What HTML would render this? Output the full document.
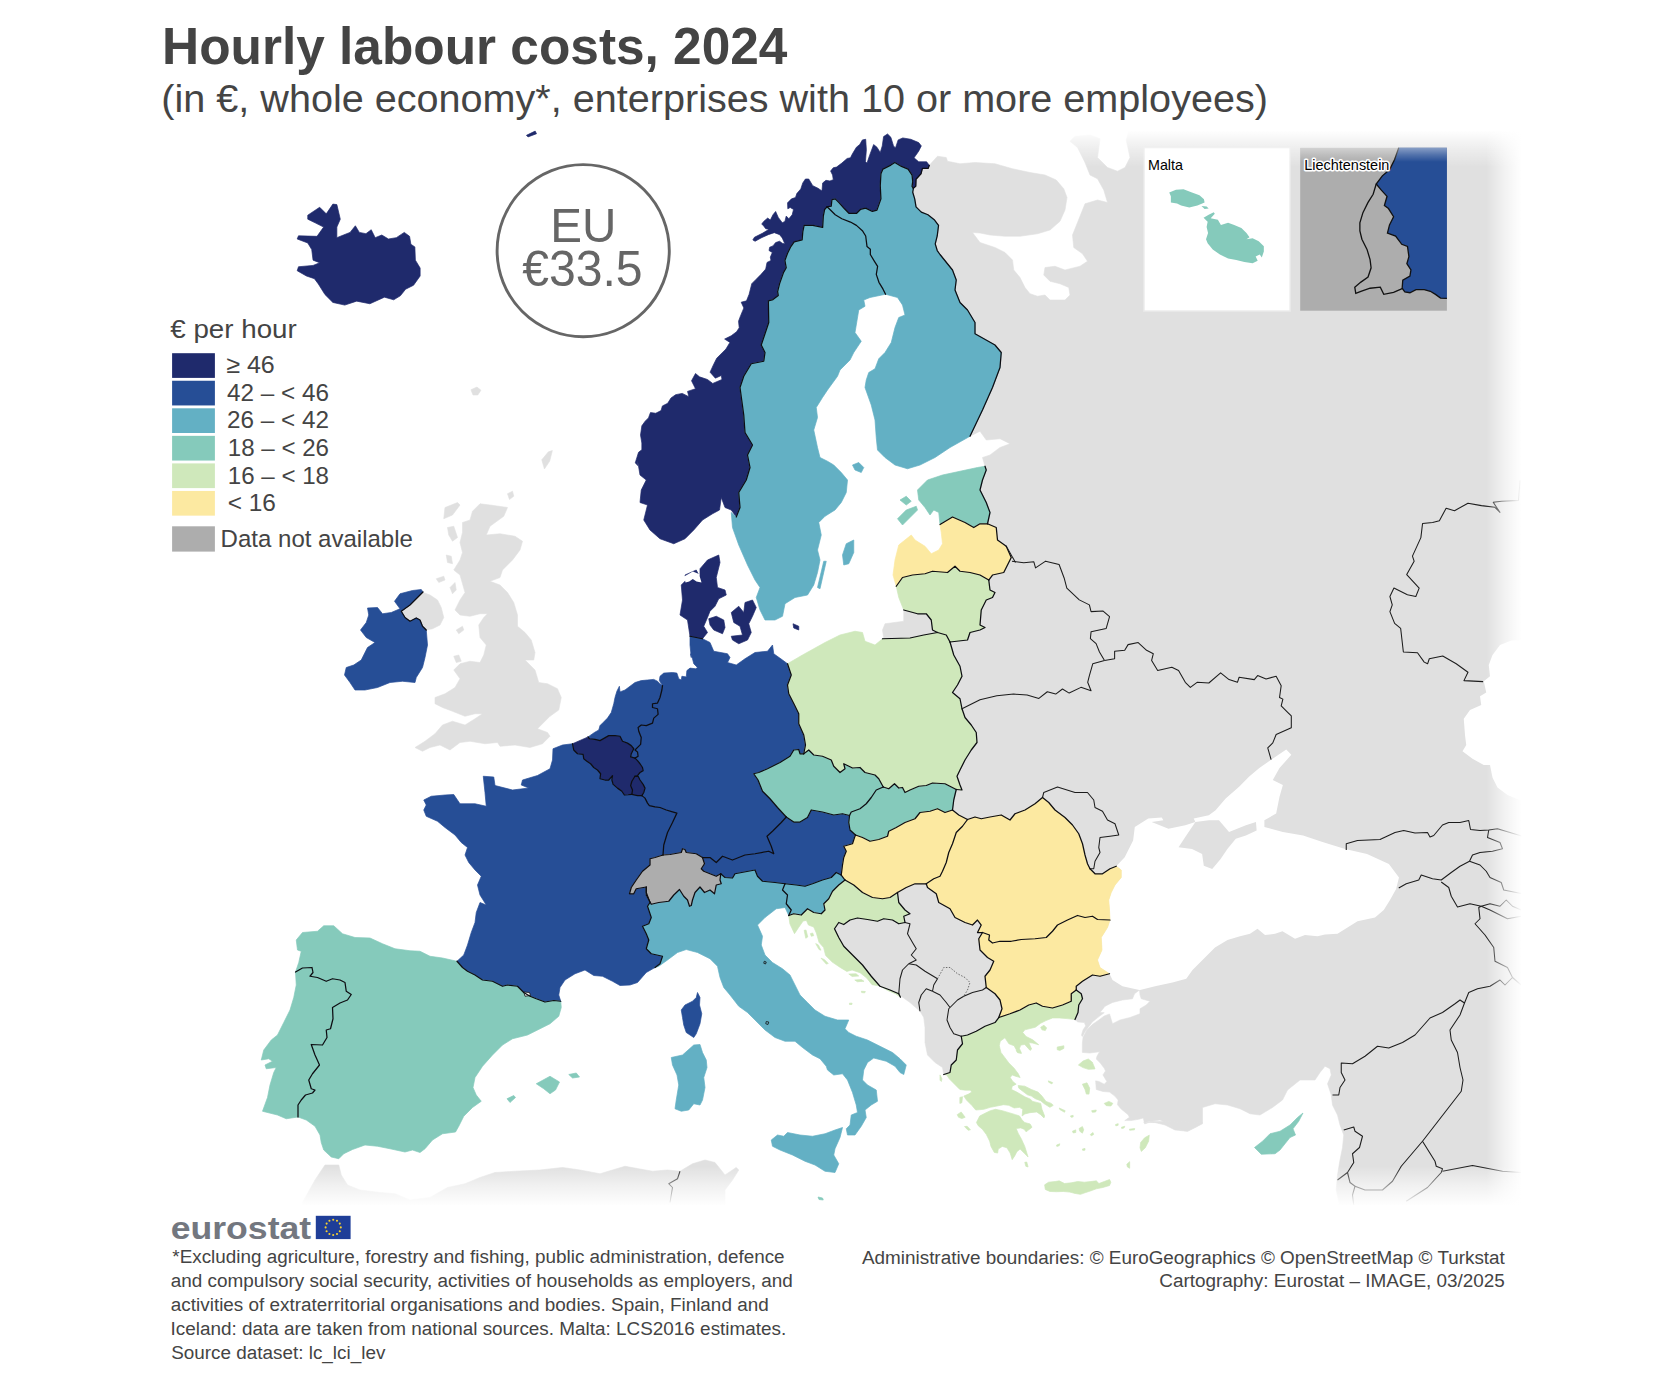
<!DOCTYPE html>
<html><head><meta charset="utf-8"><title>Hourly labour costs, 2024</title>
<style>
html,body{margin:0;padding:0;background:#fff;}
body{width:1664px;height:1382px;overflow:hidden;position:relative;font-family:"Liberation Sans",sans-serif;}
svg{position:absolute;left:0;top:0;}
svg text{font-family:"Liberation Sans",sans-serif;}
</style></head><body>
<svg width="1664" height="1382" viewBox="0 0 1664 1382">
<defs>
<linearGradient id="fr" x1="0" x2="1" y1="0" y2="0"><stop offset="0" stop-color="#fff" stop-opacity="0"/><stop offset="0.55" stop-color="#fff" stop-opacity="0.62"/><stop offset="1" stop-color="#fff" stop-opacity="1"/></linearGradient>
<linearGradient id="fb" x1="0" x2="0" y1="0" y2="1"><stop offset="0" stop-color="#fff" stop-opacity="0"/><stop offset="0.5" stop-color="#fff" stop-opacity="0.55"/><stop offset="1" stop-color="#fff" stop-opacity="1"/></linearGradient>
<linearGradient id="ft" x1="0" x2="0" y1="1" y2="0"><stop offset="0" stop-color="#fff" stop-opacity="0"/><stop offset="0.5" stop-color="#fff" stop-opacity="0.45"/><stop offset="1" stop-color="#fff" stop-opacity="1"/></linearGradient>
<linearGradient id="ftl" x1="0" x2="1" y1="0" y2="0"><stop offset="0" stop-color="#fff" stop-opacity="1"/><stop offset="1" stop-color="#fff" stop-opacity="0"/></linearGradient>
<clipPath id="mapclip"><rect x="150" y="125" width="1380" height="1085"/></clipPath>
</defs>
<g clip-path="url(#mapclip)">
<g fill="#e0e0e0" stroke="#e0e0e0" stroke-width="0.6">
<polygon points="929.27,165.36 937.5,156.25 946.25,157.5 947.5,161.25 960,163.75 975,162.5 995,163.75 1012.5,168.75 1030,172.5 1045,175 1056.25,180 1063.75,188.75 1067,197.5 1065,210 1060,221.25 1050,230 1037.5,233.75 1020,236.25 1005,236.25 990,235 980,233 972.5,232.5 980,242.5 995,247.5 1005,252.5 1012.5,260 1013.75,270 1020,277.5 1025,287.5 1030,293.75 1037.5,296.25 1045,295 1050,300 1065,300 1070,295 1068.75,287.5 1060,283.75 1050,281.25 1043.75,275 1045,267.5 1055,266.25 1065,270 1080,266.25 1087.5,261.25 1082.5,253.75 1073.75,247.5 1072.5,235 1077.5,222.5 1082.5,210 1085,203.75 1097.5,200 1107.5,202.5 1103.75,190 1097.5,178.75 1090,175 1085,162.5 1077.5,147.5 1070,141.25 1075,136.25 1090,135 1100,138.75 1097.5,157.5 1107.5,167.5 1117.5,171.25 1125,167.5 1130,157.5 1126.25,140 1130,127.5 1530,125 1530,1215 1340,1207.5 1336.25,1190 1337.5,1175 1340,1160 1342.5,1147.5 1343.75,1135 1340,1125 1337.5,1115 1332.5,1105 1331.25,1095 1327.5,1083.75 1331.25,1075 1330,1068.75 1325,1066.25 1320,1072.5 1315,1080 1300,1080 1287.5,1090 1282.5,1100 1272.5,1107.5 1260,1115 1250,1113.75 1240,1108.75 1227.5,1105 1215,1103.75 1202.5,1107.5 1202.5,1123.75 1187.5,1131.25 1175,1130 1165,1125 1150,1121.25 1202.5,1122.5 1197.5,1126.25 1187.5,1131.25 1173.75,1128.75 1168.75,1123.75 1160,1120 1151.25,1121.25 1143.75,1122.5 1160,1122.58 1150.6,1121.92 1144.64,1123.91 1143.31,1117.95 1138.68,1119.27 1130.73,1120.6 1124.77,1120.6 1129.4,1117.28 1128.08,1114.64 1121.46,1109.34 1117.48,1104.7 1118.15,1100.07 1114.83,1096.09 1109.54,1092.12 1102.91,1091.46 1096.29,1089.47 1095.63,1080.86 1098.94,1081.52 1104.24,1084.17 1106.89,1081.52 1102.91,1074.9 1105.56,1070.93 1104.24,1068.28 1100.26,1062.98 1096.29,1059.01 1096.95,1056.36 1099.6,1051.72 1089.67,1053.05 1082.38,1052.38 1082.38,1043.11 1083.05,1037.15 1087.02,1029.87 1092.32,1024.57 1098.94,1019.93 1104.24,1015.96 1109.54,1013.97 1112.5,1023.75 1120,1020 1130,1017.5 1140,1013.75 1140,1008.75 1146.25,1005 1150,1001.25 1141.25,998.75 1140,995 1139.5,990 1134.5,993.75 1132.5,998.75 1122.5,1000 1112.5,1002.5 1105,1006.25 1100,1012.5 1104.24,1012.65 1098.94,1016.62 1092.32,1021.92 1088.34,1027.22 1085.03,1031.85 1082.38,1036.49 1081.46,1035.17 1083.05,1029.87 1085.7,1025.89 1084.37,1022.58 1077.75,1021.92 1075,1019.5 1075,1019.5 1078,1012.5 1078.75,1005 1082.5,998.75 1081.25,993.75 1076.25,990 1050,995 1025,995 998.75,1017.5 998.75,1017.5 995,1022.5 985,1026.25 976.25,1031.25 967.5,1035 961.25,1036.25 961.25,1036.25 962.5,1043.75 957.5,1050 956.25,1060 951.25,1065 950,1072.5 943.75,1074.5 943.75,1074.5 942.5,1067.5 935,1062.5 927.5,1055 925,1042.5 925,1027.5 923.75,1017.5 920,1011.25 920,1011.25 910,1002.5 901.25,996.25 900.46,997.22 900.46,997.22 898.75,993.75 898.75,993.75 890,990 880,986.25 871.25,976.25 862.5,965 852.5,955 843.75,946.25 838.75,937.5 834.5,928.75 840,910 865,875 890,812.5 890,725 890,662.5 882.5,638.75 883.75,638.75 882.5,630 885,623.75 903.75,621.25 903.75,610 903.75,610 917.5,613.75 926.25,613.75 931.25,620 932.5,630 937.5,632.5 950,605 962.5,555 970,500 985,466.25 982.5,457.5 990,455 1000,447.5 1010,443.75 1000,438.75 986.25,440 980,431.25 970,436.25 970,436.25 982.5,410 992.5,387.5 1000,367.5 1001.25,352.5 995,345 975,333.75 975,322.5 967.5,310 960,302.5 955,290 956.25,280 952.5,270 940,254.5 937.22,250.53 935.23,243.91 937.22,235.96 938.54,225.36 934.57,220.07 927.95,214.77 921.32,212.12 916.03,206.82 914.7,198.87 912.72,192.25 913.38,188.28 913.38,188.28 915.76,186.29 916.03,179.27 921.06,173.71 922.38,168.41 928.21,168.41 929.27,165.36"/>
<polygon points="338.75,1165 325,1165 315,1180 302.5,1202.5 300,1215 725,1215 725,1202.5 725,1190 732.5,1180 738.75,1170 736.25,1167.5 725,1175 715,1162.5 705,1160 692.5,1163.75 680,1171.25 667.5,1170 652.5,1171.25 640,1169 625,1166.25 600,1173.75 580,1170 562.5,1167.5 540,1170 515,1171.25 495,1172.5 480,1177.5 465,1183.75 447.5,1187.5 430,1197.5 410,1200 395,1193.75 380,1192.5 360,1190 347.5,1185 341.25,1175"/>
<polygon points="480,503.75 490,505 507.5,507.5 503.75,516.25 490,526.25 486.25,535 500,533.75 515,536.25 522.5,541.25 520,550 512.5,560 502.5,570 500,577.5 490,581.25 500,585 507.5,592.5 513.75,602.5 517.5,615 517.5,626.25 525,632.5 531.25,640 535,652.5 533.75,660 525,660 535,670 538.75,682.5 547.5,683.75 557.5,688.75 561.25,697.5 558.75,710 550,716.25 543.75,722.5 537.5,728.75 547.5,732.5 550,736.25 542.5,743.75 530,747.5 515,745 500,746.25 497.5,742.5 485,743.75 470,741.25 460,742.5 450,750 440,745 430,747.5 422.5,751.25 415,747.5 425,741.25 435,733.75 442.5,725 452.5,721.25 465,725 475,718.75 482.5,713.75 475,713.75 465,716.25 452.5,711.25 442.5,707.5 435,703.75 435,697.5 445,693.75 455,687.5 460,678.75 453.75,670 460,663.75 470,661.25 480,662.5 483.75,655 486.25,645 480,637.5 478.75,625 483.75,617.5 487.5,613.75 480,613.75 470,616.25 460,615 455,610 460,600 465,592.5 462.5,583.75 460,575 453.75,570 460,560 462.5,552.5 460,542.5 462.5,532.5 462.5,522.5 470,520 472.5,511.25"/>
<polygon points="401.25,611.25 410,605 416.25,598.75 423,592.5 430,595 437.5,600 441.25,607.5 443.75,617.5 440,625 432.5,628.75 426.25,630 422.5,626.25 420,620 416.25,618 410,621.25 405,617.5"/>
<polygon points="470.91,389.71 477,387.07 480.96,390.24 477.79,395 473.03,395"/>
<polygon points="541.78,459.78 548.39,451.85 552.36,450.53 549.71,461.11 544.42,469.04"/>
<polygon points="445,507.5 457.5,502.5 460,505 452.5,515 443.75,518.75"/>
<polygon points="447.5,527.5 453.75,526.25 457.5,537.5 452.5,541.25 448.75,535"/>
<polygon points="446.25,555 451.25,556.25 452.5,563.75 447.5,562.5"/>
<polygon points="436.25,578.75 443.75,576.25 445,580 438.75,582.5"/>
<polygon points="450,587.5 455,582.5 456.25,590 452.5,593.75"/>
<polygon points="456.25,630 462.5,626.25 463.75,630 458.75,633.75"/>
<polygon points="453.75,656.25 458.75,655 461.25,661.25 456.25,662.5"/>
<polygon points="507.5,493.75 512.5,491.25 513.75,496.25 509.5,499.5"/>
</g>
<g fill="#fff">
<polygon points="1109.5,973.75 1100,967.5 1097.5,960 1102,950 1101.25,937.5 1107.5,927.5 1110,920 1109.5,910 1108.75,900 1111.25,892.5 1115,885 1121.25,877.5 1121.25,870 1116.25,866.25 1124.71,857.31 1133.12,840.48 1134.81,827.02 1148.27,818.61 1161.73,817.6 1163.41,820.29 1151.63,821.97 1168.46,828.7 1185.29,825.34 1195.38,821.97 1193.7,818.61 1208.85,815.24 1215.58,810.19 1225.67,798.41 1239.13,786.63 1249.23,776.54 1259.33,768.12 1271.11,759.71 1286.25,749.62 1291.3,754.66 1279.52,768.12 1272.79,779.9 1282.88,784.95 1279.52,796.73 1276.15,813.56 1264.38,820.29 1264.38,827.02 1282.88,832.07 1303.08,835.43 1323.27,842.16 1345.14,848.89 1367.02,853.94 1388.89,864.04 1398.99,877.5 1395.62,890.96 1396.25,888.75 1390,900 1383.75,910 1375,917.5 1357.5,921.25 1347.5,927.5 1337.5,933.75 1325,934.5 1317.5,936.25 1305,935 1295,938.75 1282.5,931.25 1275,933.75 1265,935 1257.5,928.75 1250,933.75 1240,936.25 1227.5,940 1215,947.5 1202.5,960 1192.5,970 1186.25,978.75 1172.5,982.5 1155,986.25 1140,990 1139.5,990 1133.75,988.75 1122.5,986.25 1112.5,980"/>
<polygon points="1540,640 1522.5,640 1511.25,640.5 1500,645 1492.5,655 1488.75,665 1490,676.25 1483.75,681.25 1486.25,692.5 1480,696.25 1481.25,705 1470,710 1463.75,718.75 1465,735 1466.25,745 1462.5,751.25 1472.5,758.75 1483.75,765 1490,765 1492.5,777.5 1497.5,787.5 1507.5,795 1522.5,801.25 1540,801.25"/>
</g>
<polygon points="1195.38,821.97 1208.85,820.29 1218.94,820.29 1229.04,832.07 1245.87,825.34 1255.96,821.97 1256.63,830.38 1245.87,835.43 1235.77,838.8 1227.36,848.89 1220.62,858.99 1212.21,869.09 1203.8,865.72 1202.12,853.94 1192.02,848.89 1178.56,847.21 1185.29,837.12" fill="#e0e0e0" />
<g fill="none" stroke="#1c1c1c" stroke-width="1.05" stroke-linejoin="round">
<polyline points="1011.97,561.15 1023.75,562.84 1033.85,561.83 1035.53,567.88 1045.62,561.15 1059.09,564.52 1064.13,577.98 1066.83,588.08 1079.28,599.86 1089.38,604.9 1091.06,611.63 1102.84,610.96 1109.57,616.68 1106.2,628.46 1091.06,631.83 1090.38,638.56 1096.11,643.61 1099.47,652.02 1104.52,660.43"/>
<polyline points="1104.52,660.43 1092.74,663.8 1089.38,675.58 1087.69,682.31 1091.06,690.72 1080.96,687.36 1069.18,693.08 1062.45,689.04 1055.72,694.09 1047.31,691.73 1038.89,698.46 1027.12,695.1 1013.65,694.09 996.83,695.77 980,699.81 962,708.75"/>
<polyline points="1104.52,660.43 1114.62,658.75 1114.62,651.35 1124.71,650.34 1128.08,644.62 1138.17,642.6 1146.59,650.34 1153.32,653.7 1151.63,660.43 1157.69,670.53 1171.83,667.16 1178.56,670.53 1185.29,682.31 1190.34,687.36 1197.07,682.31 1208.85,682.98 1220.62,672.88 1229.04,679.62 1237.45,682.31 1239.13,677.26 1254.28,679.62 1257.64,675.58 1266.06,678.94 1276.15,676.25 1281.2,685.67 1279.52,697.45 1282.88,699.13 1281.2,705.87 1287.93,712.6 1291.3,715.96 1291.3,727.74 1276.15,734.47 1272.79,742.88 1267.74,747.93 1271.11,759.71"/>
<polyline points="1520.14,480.38 1518.46,500.58 1501.63,501.25 1493.22,502.26 1499.95,512.36 1494.9,507.31 1481.44,505.62 1467.98,503.27 1454.52,510.67 1446.11,508.32 1439.38,520.77 1432.64,522.45 1422.55,523.46 1420.87,537.6 1412.45,556.11 1414.13,561.15 1406.73,574.62 1419.18,588.08 1415.82,596.49 1407.4,594.81 1393.94,588.08 1389.9,596.49 1392.26,604.9 1389.9,611.63 1394.62,623.41 1400.67,628.46 1403.37,652.02 1417.5,652.69 1424.23,662.12 1427.6,663.8 1429.28,658.75 1442.74,656.06 1456.2,663.8 1467.98,672.21 1463.94,680.62 1483.12,681.63"/>
<polyline points="1042.5,797.5 1043.75,792.5 1057.5,787 1075,792.5 1087.5,792.5 1093.75,800 1095,807.5 1102.5,811.25 1107.5,820 1115,823.75 1118.75,835 1110,836.25 1100,837.5 1098.75,847.5 1100,852.5 1095,861.25 1093.75,868.75 1090,868.75"/>
<polyline points="1006.25,546.25 1015.5,562.5"/>
<polyline points="1346.25,850 1346.25,843.75 1357.5,840.5 1380,839.5 1395,832.5 1403.75,830.5 1415,833 1427.5,832.5 1430,837 1433.75,835.5 1442.5,825 1448.75,822.5 1460,822.5 1468.75,820.5 1470.5,829.5 1480,830.5 1488.75,830 1497.5,828.75 1510,832.5 1522.5,836.25"/>
<polyline points="1488.75,830 1487.5,837.5 1500,842.5 1502.5,848.75 1492.5,851.25 1480,852.5 1472.5,855 1469.5,861.25 1460,866.25 1451.25,872.5 1441.25,880 1432.5,878.75 1421.25,875 1418.75,880 1406.25,883.75 1398.75,888"/>
<polyline points="1469.5,861.25 1480,865 1486.25,871.25 1490,877.5 1501.25,882.5 1503.75,890 1522.5,893.75"/>
<polyline points="1332.5,1095 1338.75,1095 1340,1087.5 1345,1080 1341.25,1072.5 1341.25,1063 1352.5,1063.75 1365,1056.25 1377.5,1046.25 1388.75,1048 1402.5,1042.5 1415,1035 1430,1018 1442.5,1012.5 1455,1003.75 1460,1000 1464.5,1003 1468.75,992.5 1477.5,988.75 1490,986.25 1500,980 1505,985 1512.5,977.5 1521.25,985"/>
<polyline points="1512.5,977.5 1507.5,967.5 1495,961.25 1493.75,947.5 1485,935 1475,923.75 1480,918.75 1478.75,907.5 1481.25,906.25 1470,903.75 1457.5,907 1451.25,896.25 1448.75,887.5 1441.25,882"/>
<polyline points="1481.25,906.25 1490,903.75 1500,906.25 1506.25,900 1512.5,906.25 1521.25,910"/>
<polyline points="1481.25,906.25 1490,910 1507.5,918.75 1521.25,916.25"/>
<polyline points="1464.5,1003 1460,1015 1450,1030 1451.25,1040 1457.5,1052.5 1460,1067.5 1463,1080 1461.25,1091.25 1422.5,1141.25 1435,1161.25 1436.25,1166.25 1442.5,1168.75 1441.25,1172.5 1427.5,1187.5 1406.25,1201.25"/>
<polyline points="1442.5,1171.25 1472.5,1165.5 1502.5,1171.25 1521.25,1172.5"/>
<polyline points="1422.5,1141.25 1401.25,1166.25 1392.5,1181.25 1382.5,1190 1365,1190 1355,1186.25 1352.5,1195 1353.75,1205.5"/>
<polyline points="1343.75,1130 1353.75,1127 1355,1131.25 1362.5,1136.25 1359.5,1147.5 1352.5,1153.75 1353.75,1162.5 1347.5,1172.5 1337.5,1180"/>
<polyline points="1347.5,1172.5 1350,1182.5 1355,1186.25"/>
<polyline points="680,1171.25 677.5,1178.75 668.75,1183.75 672.5,1187.5 670,1202.5"/>
<polyline points="905,922.5 910,923.75 907.5,933.75 912.5,942.5 916.25,948.75 911.25,955 916.25,960 908.75,963.75"/>
<polyline points="908.75,963.75 902.5,970 900,978.75 898.75,993.75"/>
<polyline points="908.75,963.75 916.25,965 925,971.25 937.5,978.75"/>
<polyline points="937.5,978.75 933.75,985 932.5,991.25"/>
<polyline points="932.5,991.25 926.25,988.75 921.25,995 918.75,1002.5 920,1011.25"/>
<polyline points="932.5,991.25 940,995 946.25,1002.5 950,1007.5"/>
<polyline points="950,1007.5 957.5,1000 963.75,996.25"/>
<polyline points="963.75,996.25 972.5,992.5 982.5,990 986.25,987.5"/>
<polyline points="950,1007.5 948.75,1008.75 947,1020 950,1027.5 953.75,1033.75 961.25,1036.25"/>
<polyline points="937.5,978.75 943.75,967.5 950,967.5 957.5,973.75 965,977.5 970,982.5 967.5,990 963.75,996.25" stroke-dasharray="1.5,1.5" stroke-width="0.6"/>
</g>
</g>
<!-- fades -->
<rect x="1000" y="130" width="530" height="37" fill="url(#ft)"/><rect x="1000" y="120" width="530" height="10.5" fill="#fff"/>
<rect x="1486" y="120" width="36" height="1095" fill="url(#fr)"/>
<rect x="1521.5" y="120" width="143" height="1095" fill="#fff"/>
<rect x="150" y="1166" width="1400" height="40" fill="url(#fb)"/>
<rect x="150" y="1205.5" width="1400" height="12" fill="#fff"/>
<g clip-path="url(#mapclip)">
<g fill="#1f2a6c" stroke="#1f2a6c" stroke-width="0.7" stroke-linejoin="round">
<polygon points="736.25,517 731.25,510 725,507.5 721.25,497.5 719.5,510 712.5,513.75 702.5,520 693.75,530 685,538.75 673.75,543.75 660,538.75 650,530 643.75,520 647.5,505 640,502.5 641.25,490 646.25,480 640,475 637.5,460 637.88,465.56 635.23,462.91 638.54,452.32 641.85,449.67 641.85,443.05 640.53,435.1 641.85,425.83 645.17,421.19 648.48,417.88 650.46,412.58 655.76,413.25 661.06,410.6 662.38,405.96 667.68,403.31 670.99,398.01 675.63,394.7 682.25,393.38 688.87,396.69 687.55,391.39 695.5,388.74 691.52,380.79 695.5,373.51 699.47,376.82 707.42,379.47 712.72,383.44 721.99,379.47 721.32,375.5 715.36,378.15 710.07,372.19 713.38,364.9 716.69,358.28 721.99,352.98 725.96,349.01 729.93,342.38 724.64,339.07 731.26,335.76 736.56,331.79 739.21,327.81 738.54,321.19 740.53,315.89 743.84,307.95 741.19,302.19 746.49,300.86 749.14,294.24 751.79,283.64 755.76,279.67 761.06,274.37 765.7,269.07 767.02,262.45 770.99,260.46 770.33,257.15 772.32,252.52 769.01,250.53 769.67,247.22 772.98,245.89 775.63,242.58 779.6,241.26 782.25,243.25 784.9,243.91 782.25,237.95 779.6,234.64 774.3,232.65 768.34,234.64 761.06,237.95 755.1,241.26 752.85,239.93 754.44,237.28 762.38,233.31 769.01,229.34 765.7,228.68 763.71,226.03 761.72,224.04 763.71,221.39 767.68,218.08 770.33,220.07 772.98,214.77 775.63,211.46 778.28,217.42 782.25,222.72 784.9,221.39 786.23,216.09 788.87,218.74 792.19,214.77 793.51,209.47 790.2,207.48 787.81,208.81 787.55,202.85 791.52,198.87 795.5,197.55 796.82,193.58 800.79,188.94 802.78,182.98 805.43,179.01 808.74,179.01 812.72,185.63 818.01,188.28 821.99,190.93 822.65,182.98 825.96,180.33 829.93,180.99 833.25,179.67 832.58,175.03 830.6,171.06 833.25,167.75 836.56,167.09 841.85,163.11 847.15,158.48 850.46,157.81 852.45,153.84 856.42,147.22 859.74,144.57 862.38,139.93 865.7,139.27 866.36,149.87 865.43,161.79 867.02,163.11 869.67,155.17 873.64,144.57 876.95,147.22 880.26,152.52 882.25,145.89 883.58,136.62 887.55,133.97 890.86,137.28 893.51,145.89 895.5,147.88 898.15,139.93 902.78,137.95 910.73,139.27 918.68,142.58 921.32,145.89 918.68,151.19 914.04,157.81 918.68,161.79 926.62,161.79 929.27,165.36 929.27,165.36 928.21,168.41 922.38,168.41 921.06,173.71 916.03,179.27 915.76,186.29 913.38,188.28 913.38,188.28 912.05,186.29 912.72,181.66 912.05,175.03 908.08,169.07 901.46,166.42 894.83,162.45 890.86,165.1 882.91,169.07 880.93,173.71 880.26,185.63 880.93,198.87 876.95,210.13 872.32,211.46 865.7,208.15 860.4,209.47 856.42,213.44 849.14,213.44 844.5,208.81 839.21,202.85 835.23,198.87 831.92,199.54 831.26,206.16 827.02,206.82 827.02,206.82 824.64,209.47 823.31,216.09 822.65,227.35 812.72,225.36 804.11,225.36 802.78,231.99 802.12,239.93 794.17,241.92 790.86,246.56 787.55,253.18 784.9,260.46 786.23,267.75 783.58,272.38 779.6,283.64 777.62,291.59 778.28,295.56 772.98,299.54 768.34,300.86 768.75,322.5 761.25,345 765,352.5 763.75,361.25 751.25,363.75 743.75,376.25 740,387.5 743.75,415 745,432.5 752.5,445 747.5,455 750,467.5 746.25,480 738.75,492.5 740,507.5 736.25,517"/>
<polygon points="307.76,215.19 319.66,207.26 326.27,213.87 332.88,204.09 336.85,204.62 340.29,219.16 336.85,227.09 336.85,237.67 343.46,235.02 350.07,232.38 355.36,225.77 359.33,232.38 365.94,233.7 371.23,229.74 375.19,237.67 381.8,235.02 388.41,238.99 396.35,237.67 404.28,232.38 409.57,236.35 410.89,244.28 414.86,246.92 415.38,260.14 420.14,268.08 420.14,276.01 413.53,285.26 405.6,289.23 400.31,295.84 393.7,299.81 384.45,297.16 369.9,303.77 356.68,301.13 344.78,305.1 332.88,302.45 324.95,294.52 318.34,283.94 314.38,278.65 306.44,276.01 297.19,270.72 298.51,266.75 313.05,265.43 319.66,262.79 313.05,260.14 311.73,249.57 307.76,242.96 297.19,238.99 298.51,235.82 317.02,236.35 323.63,227.09 315.7,223.12 307.76,219.16"/>
<polygon points="526.44,135.34 535.17,131.11 536.49,133.75 528.03,136.92"/>
<polygon points="690,636.25 687.5,620 680,615 682.5,600 681.25,585 686.25,580 685,575 696.25,570 700,577.5 700,568.75 707.5,560 718.75,555 720,562.5 716.25,577.5 717.5,587.5 725,590 726.25,595 718.75,598.75 715,606.25 710,611.25 707.5,617.5 703.75,626.25 707.5,632.5 702.5,638.75"/>
<polygon points="708.75,618.75 716.25,616.25 723.75,620 725,627.5 722.5,633.75 713.75,630 710,625"/>
<polygon points="731.25,612.5 738.75,606.25 743.75,612.5 745,602.5 752.5,600 756.25,607.5 752.5,616.25 748.75,623.75 751.25,632.5 747.5,640 738.75,643.75 732.5,640 731.25,636.25 742.5,635 740,626.25 733.75,622.5"/>
<polygon points="793,623.75 798.75,626.25 798.75,630 793.75,628"/>
<polygon points="572.5,743.75 588.12,736.88 588.12,736.88 589.38,738.75 595,739.38 600,740.62 604.38,738.12 608.75,735.62 615,735.62 620,736.25 622.5,741.25 627.5,743.12 631.25,745.62 633.75,748.75 631.25,753.75 630.62,756.88 635,758.12 635,758.12 637.5,760.62 640,763.75 642.5,767.5 643.12,770.62 640,772.5 637.5,775.62 635,776.25 635,776.25 631.88,781.25 630.62,785.62 632.5,790 631.88,794.38 631.88,794.38 628.12,794.75 624.38,795 621.88,791.25 617.5,788.12 613.12,784.38 611.88,780 612.5,775.62 608.75,780 605,780 600,778.75 600.62,773.75 597.5,770 593.75,767.5 590.62,763.75 586.88,761.25 583.75,758.75 583.12,754.38 577.5,753.75 573.75,750 572.5,743.75"/>
<polygon points="635,776.25 638.12,776.25 640,780 643.12,784.38 645,788.12 643.75,792.5 641.88,795.62 641.88,795.62 637.5,795.62 631.88,794.38 631.88,794.38 632.5,790 630.62,785.62 631.88,781.25 635,776.25"/>
</g>
<g fill="#264e96" stroke="#264e96" stroke-width="0.7" stroke-linejoin="round">
<polygon points="367.5,608 377.5,607.5 382.5,613.75 391.25,612.5 400,608.75 394.5,601.25 400,593.75 412.5,590.5 421.25,589.5 423,592 416.25,598.75 410,605 401.25,611.25 405,617.5 410,621.25 416.25,618 420,620 422.5,626.25 426.25,630 427.5,645 425,657.5 422.5,667.5 416.25,677.5 415,682.5 402.5,681.25 390,682.5 377.5,687.5 365,690 355,690 350,682.5 344.5,675 346.25,667.5 353.75,665 361.25,660 367.5,647.5 375,642.5 366.25,637.5 360.5,630 366.25,622.5 368.75,615"/>
<polygon points="588.12,736.88 594.38,732.5 598.75,730 600,725.62 603.12,722.5 607.5,718.12 611.25,712.5 613.75,703.75 615,697.5 616.88,691.25 619.38,686.25 620,691.88 625,690 630,686.25 635,682.5 641.25,680.62 647.5,680 653.75,679.38 657.5,681.25 660,683.75 662.5,685.62 662.5,685.62 661.88,690 660,697.5 657.5,703.12 652.5,703.75 652.5,707.5 657.5,708.75 658.12,714.38 653.75,718.12 652.5,723.12 646.25,725.62 641.25,725 638.12,727.5 638.75,731.25 641.25,737.5 640.62,744.38 638.12,746.88 635,750 637.5,751.88 638.12,756.25 635,758.12 635,758.12 630.62,756.88 631.25,753.75 633.75,748.75 631.25,745.62 627.5,743.12 622.5,741.25 620,736.25 615,735.62 608.75,735.62 604.38,738.12 600,740.62 595,739.38 589.38,738.75 588.12,736.88"/>
<polygon points="662.5,685.62 659.38,680.62 660,676.25 663.75,673.12 672.5,672.5 676.88,673.12 678.75,678.75 681.25,680 681.88,676.25 686.25,676.88 686.88,670.62 690,668.12 695.62,668.75 697.5,667.5 693.75,663.75 692.5,658.75 690.62,653.75 691.25,657.5 690,645 690,636.25 690,636.25 702.5,638.75 702.5,638.75 710,642.5 713.75,651.25 727.5,653.75 730,657.5 727.5,662.5 736.25,665 745,658.75 755,652.5 767.5,651.25 772.5,645 773.75,653.75 782.5,660 787.5,663.75 787.5,663.75 791.25,675 787.5,685 788.75,693.75 794.5,705 798.75,713.75 798.75,723.75 803.75,735 805.5,745 803.75,753.75 803.75,753.75 800,753.75 798.75,749.5 793.75,750 790,756.25 780,762.5 767.5,768.75 758.75,772.5 753.75,773.75 758,780 760,785 762.5,791.25 770,798.75 777.5,807.5 786.25,817 786.25,817 781.25,822.5 772.5,831.25 767,836.25 771.25,846.25 773.75,853.75 768.75,851.25 755,853.75 745,855 732.5,860 722.5,856.25 716.25,862.5 710,857.5 702.5,857.5 702.5,857.5 696.25,853.75 686.25,852.5 685,849.5 682.5,848.75 681.25,852.5 670,854.5 663,855 663,855 663.75,845 667.5,832.5 672.5,822.5 676.88,813.12 672.5,811.88 666.25,810 660,807.5 655,806.88 649.38,805.62 647.5,803.12 645,798.12 641.88,795.62 641.88,795.62 643.75,792.5 645,788.12 643.12,784.38 640,780 638.12,776.25 635,776.25 635,776.25 637.5,775.62 640,772.5 643.12,770.62 642.5,767.5 640,763.75 637.5,760.62 635,758.12 635,758.12 638.12,756.25 637.5,751.88 635,750 638.12,746.88 640.62,744.38 641.25,737.5 638.75,731.25 638.12,727.5 641.25,725 646.25,725.62 652.5,723.12 653.75,718.12 658.12,714.38 657.5,708.75 652.5,707.5 652.5,703.75 657.5,703.12 660,697.5 661.88,690 662.5,685.62"/>
<polygon points="457,961.25 463.75,955 467.5,945 471.25,932.5 475,922.5 476.25,912.5 480,902.5 486.25,905 480,895 477.5,885 481.25,876.25 475,870 468.75,862.5 465,855 467.5,847.5 461.25,842.5 455,835 445,827.5 437.5,821.25 426.25,816.25 423.75,810 426.25,805 423.75,800 431.25,796.25 445,795 453.75,794.5 460,803.75 475,803.75 486.25,806.25 485,792.5 483.25,776.25 493.75,777 495,785.5 512.5,790 528.75,788 521.25,785 522.5,780 537.5,775.5 550,768.75 552.5,760 553,748.75 562.5,745 572.5,743.75 572.5,743.75 573.75,750 577.5,753.75 583.12,754.38 583.75,758.75 586.88,761.25 590.62,763.75 593.75,767.5 597.5,770 600.62,773.75 600,778.75 605,780 608.75,780 612.5,775.62 611.88,780 613.12,784.38 617.5,788.12 621.88,791.25 624.38,795 628.12,794.75 631.88,794.38 631.88,794.38 637.5,795.62 641.88,795.62 641.88,795.62 645,798.12 647.5,803.12 649.38,805.62 655,806.88 660,807.5 666.25,810 672.5,811.88 676.88,813.12 672.5,822.5 667.5,832.5 663.75,845 663,855 663,855 655,857.5 650,858.75 650,865 642.5,871.25 636.25,880 631.25,887.5 629.5,893.75 633.75,893.75 636.25,888.75 646.25,887 646.25,887 646.25,892.5 650,902.5 647.5,906.25 651.25,917.5 648.75,923.75 642.5,926.25 646.25,933.75 648.75,940 646.25,948.75 651.25,953.75 662.5,956.25 660,963.75 655,967.5 655,967.5 646.25,972.5 637.5,982.5 630,985 620,985.5 612.5,981.25 602.5,976.25 593.75,975.5 585,970 575,973.75 565,980 560,987.5 558.75,995 560.75,1001.25 560.75,1001.25 553.75,1000.5 545,1002 536.25,998.75 530,996.25 523.75,992.5 517.5,986.25 507.5,985 502.5,986.25 492.5,981.25 482.5,980 475,975 467.5,971.25 462.5,967.5 457,961.25"/>
<polygon points="697.5,992.5 700,997.5 699.5,1005 701.75,1013.75 700,1023.75 696.25,1033.75 693.75,1037.5 686.25,1032.5 683.75,1025 682.5,1017.5 681.25,1010 685,1005 692.5,1001.25 696.25,997.5"/>
<polygon points="702.5,857.5 710,857.5 716.25,862.5 722.5,856.25 732.5,860 745,855 755,853.75 768.75,851.25 773.75,853.75 771.25,846.25 767,836.25 772.5,831.25 781.25,822.5 786.25,817 786.25,817 793.75,822 800,822 807.5,817.5 811.25,810 822.5,812 833.75,815 842.5,813.75 849.5,815.5 849.5,815.5 848.75,822.5 850,830 855.5,835 855.5,835 854.5,837.5 852.5,843.75 843.75,846.25 846.25,851.25 843.75,857.5 842.5,865 841.25,875 841.25,875 836.25,872.5 831.25,877.5 822.5,880 812.5,883.75 805,886.25 796.25,885 785,883.75 785,883.75 775,882.5 762.5,881.25 757.5,876.25 755,870 735,873.75 732.5,878 725,877.5 720.75,873.75 720.75,873.75 716.25,876.25 710,873.75 703.75,871.25 701.25,868.75 704.5,863.75 702.5,857.5"/>
</g>
<g fill="#63b0c4" stroke="#63b0c4" stroke-width="0.7" stroke-linejoin="round">
<polygon points="736.25,517 740,507.5 738.75,492.5 746.25,480 750,467.5 747.5,455 752.5,445 745,432.5 743.75,415 740,387.5 743.75,376.25 751.25,363.75 763.75,361.25 765,352.5 761.25,345 768.75,322.5 768.34,300.86 772.98,299.54 778.28,295.56 777.62,291.59 779.6,283.64 783.58,272.38 786.23,267.75 784.9,260.46 787.55,253.18 790.86,246.56 794.17,241.92 802.12,239.93 802.78,231.99 804.11,225.36 812.72,225.36 822.65,227.35 823.31,216.09 824.64,209.47 827.02,206.82 827.02,206.82 829.93,209.47 835.23,214.77 841.85,218.74 850.46,222.05 856.42,225.36 862.38,230.66 865.7,235.96 867.02,246.56 870.33,249.21 870.33,254.5 874.3,261.13 877.62,266.42 876.29,274.37 878.94,282.32 882.91,288.94 885.56,294.24 885.56,294.24 870,297.5 863.75,300 865,306.25 858.75,310 856.25,325 855,332.5 861.25,341.25 853.75,352.5 850,360 840,370 837.5,376.25 827.5,390 822.5,397.5 816.25,407.5 817.5,417.5 813.75,430 817.5,447.5 820,457.5 827.5,461.25 833.75,465 841.25,472.5 847.5,480 846.25,492.5 841.25,502.5 835,510 825,516.25 818.75,522.5 821.25,535 817.5,550 820,560 817.5,572.5 813.75,585 807.5,595 795,597.5 785,603.75 782.5,616.25 775,620 765,620 760,610 756.25,597.5 760,587.5 755,580 747.5,565 738.75,545 732.5,527.5 731.25,512.5 736.25,517"/>
<polygon points="846.25,543.75 853.75,540 853.75,552.5 848.75,563.75 843.75,565 842.5,555"/>
<polygon points="823.75,561.25 826.25,561.25 820,588.75 817.5,587.5"/>
<polygon points="885.56,294.24 882.91,288.94 878.94,282.32 876.29,274.37 877.62,266.42 874.3,261.13 870.33,254.5 870.33,249.21 867.02,246.56 865.7,235.96 862.38,230.66 856.42,225.36 850.46,222.05 841.85,218.74 835.23,214.77 829.93,209.47 827.02,206.82 827.02,206.82 831.26,206.16 831.92,199.54 835.23,198.87 839.21,202.85 844.5,208.81 849.14,213.44 856.42,213.44 860.4,209.47 865.7,208.15 872.32,211.46 876.95,210.13 880.93,198.87 880.26,185.63 880.93,173.71 882.91,169.07 890.86,165.1 894.83,162.45 901.46,166.42 908.08,169.07 912.05,175.03 912.72,181.66 912.05,186.29 913.38,188.28 913.38,188.28 912.72,192.25 914.7,198.87 916.03,206.82 921.32,212.12 927.95,214.77 934.57,220.07 938.54,225.36 937.22,235.96 935.23,243.91 937.22,250.53 940,254.5 952.5,270 956.25,280 955,290 960,302.5 967.5,310 975,322.5 975,333.75 995,345 1001.25,352.5 1000,367.5 992.5,387.5 982.5,410 970,436.25 970,436.25 950,447.5 935,457.5 920,465 907.5,468.75 895,465 885,457.5 877.5,450 876.25,437.5 875,420 871.25,405 865,387.5 866.25,380 868.75,372.5 875,368.75 878.75,358.75 885,352.5 891.25,342.5 895,327.5 898.75,317.5 905,315 902.5,305 897.5,297.5 885.56,294.24"/>
<polygon points="852.5,465 858.75,462.5 863.75,467.5 861.25,472.5 855,470"/>
<polygon points="658.75,966.25 667.5,960 677.5,952.5 686.25,949.5 697.5,952.5 710,958.75 717.5,966.25 720,977.5 723.75,987.5 730,995 738.75,1006.25 747.5,1012.5 755,1020 765,1030 775,1037.5 785,1041.25 795,1041.25 802.5,1047.5 812.5,1055 820,1058.75 826.25,1066.25 827.5,1070 833.75,1075 842.5,1073.75 847.5,1080 852.5,1092.5 856.25,1105 857.5,1112.5 851.25,1115 850,1125 846.25,1128.75 847.5,1135 855,1135 861.25,1126.25 866.25,1117.5 865,1110 871.25,1105 877.5,1101.25 876.25,1090 867.5,1085 862.5,1080 863.75,1070 867.5,1062.5 873.75,1058 886.25,1061.25 895,1066.25 900,1072.5 903.75,1074.5 906.25,1065 900,1058.75 892.5,1052.5 880,1046.25 867.5,1040 856.25,1036.25 848.75,1032.5 845,1028.75 848.75,1020 837.5,1020 825,1016.25 815,1010 807.5,1002.5 800,995 795,985 790,975 782.5,968.75 772.5,962.5 765,955 761.25,945 762.5,936.25 757.5,925 765,917.5 776.25,908.75 785,907.5 788.75,915.5 788.75,915.5 791.25,910 786.25,903.75 787.5,895 782.5,890 785,883.75 785,883.75 775,882.5 762.5,881.25 757.5,876.25 755,870 735,873.75 732.5,878 725,877.5 720.75,873.75 720.75,873.75 720,880 721.25,883.75 716.25,885 714.5,893.75 710,890 704.5,892.5 700,887 695,892.5 692.5,900 691.25,905.5 689.5,906.25 687.5,900 683.75,896.25 679.5,889.5 673.75,895 668.75,901.25 658.75,902.5 651.25,904.25 646.25,895 646.25,887 646.25,887 646.25,892.5 650,902.5 647.5,906.25 651.25,917.5 648.75,923.75 642.5,926.25 646.25,933.75 648.75,940 646.25,948.75 651.25,953.75 662.5,956.25 660,963.75 655,967.5"/>
<polygon points="671.25,1057.5 682.5,1055 693.75,1045 700,1044.5 702.5,1052.5 706.25,1060 707,1067.5 703.75,1077.5 705,1087.5 702.5,1100 700,1105 693.75,1103.75 688.75,1110 681.25,1111.25 675,1108.75 676.25,1100 678.75,1085 677,1075 672.5,1065"/>
<polygon points="771.25,1140 777.5,1135 783.75,1136.25 787.5,1132.5 800,1135 812.5,1136.25 825,1133.75 835,1130 842.5,1127.5 840,1137.5 835,1148.75 833.75,1155 838.75,1163.75 835,1172.5 825,1171.25 815,1165 805,1161.25 792.5,1155 780,1150 772.5,1146.25"/>
<polygon points="785,883.75 796.25,885 805,886.25 812.5,883.75 822.5,880 831.25,877.5 836.25,872.5 841.25,875 841.25,875 845,880 845,880 838.75,885 832.5,891.25 828.75,898.75 823.75,903.75 825,910 821.25,913.75 813.75,912.5 807.5,908.75 801.25,915 793.75,913.75 788.75,915.5 788.75,915.5 791.25,910 786.25,903.75 787.5,895 782.5,890 785,883.75"/>
</g>
<g fill="#85cabb" stroke="#85cabb" stroke-width="0.7" stroke-linejoin="round">
<polygon points="296.25,940 302.5,932.5 317.5,931.25 323.75,925.75 333.75,925.75 342.5,933.75 355,937.5 370,938 382.5,943.75 395,948.75 410,950.75 420,951.25 430,956.25 442.5,958 457,961.25 462.5,967.5 467.5,971.25 475,975 482.5,980 492.5,981.25 502.5,986.25 507.5,985 517.5,986.25 523.75,992.5 530,996.25 536.25,998.75 545,1002 553.75,1000.5 560.75,1001.25 561.25,1007.5 558.75,1016.25 550,1023.75 540,1028.75 527.5,1035 512.5,1038.75 502.5,1045 492.5,1055 482.5,1066.25 475,1077.5 473,1087.5 476.25,1095 481.25,1101.25 472.5,1107.5 463.75,1116.25 458.75,1126.25 455.5,1132 442.5,1133.75 432.5,1140 425,1148.75 420,1152.5 412.5,1150 405,1152 390,1148.75 377.5,1146.25 365,1145 352.5,1149.5 343.75,1153.75 338.75,1158.75 331.25,1157 323.75,1150 321.25,1142.5 320,1135 315,1126.25 306.25,1120 298,1117 298,1117 298,1105 301.25,1100 305.5,1095 312.5,1093 315,1090 311.25,1088.75 308.75,1080 312.5,1073.75 319.5,1065 315,1055 311.25,1044.5 322.5,1045 327,1037.5 326.25,1030 330.5,1028.75 333,1018.75 332.5,1007.5 340,1003 347.5,1000 351.25,994.5 346.25,991.25 345,982.5 340,980 332.5,978.75 326.25,981.25 317.5,977.5 310,976.25 313,972.5 312,967.5 302.5,968 295.5,972 295.5,972 298.75,962.5 301.25,951.25 297.5,950 296.25,940"/>
<polygon points="298,1117 286.25,1118.75 277.5,1115 262.5,1111.25 267.5,1097.5 270,1085 273.75,1072.5 276.25,1067.5 266.25,1068.75 265,1065 272.5,1061.25 268.75,1058.75 261.25,1060 263.75,1050 271.25,1040 277.5,1035 283.75,1022.5 290,1010 293.75,997.5 296.25,985 295.5,972 295.5,972 302.5,968 312,967.5 313,972.5 310,976.25 317.5,977.5 326.25,981.25 332.5,978.75 340,980 345,982.5 346.25,991.25 351.25,994.5 347.5,1000 340,1003 332.5,1007.5 333,1018.75 330.5,1028.75 326.25,1030 327,1037.5 322.5,1045 311.25,1044.5 315,1055 319.5,1065 312.5,1073.75 308.75,1080 311.25,1088.75 315,1090 312.5,1093 305.5,1095 301.25,1100 298,1105 298,1117"/>
<polygon points="536.25,1083.75 550,1076.25 559.5,1082 555.5,1090 550,1093.75 543.75,1088.75"/>
<polygon points="568.75,1074.5 576.25,1073 579.5,1077 572.5,1078"/>
<polygon points="507,1098.75 513.75,1095.5 515.5,1097.5 510,1102.5"/>
<polygon points="985,466.25 986.25,470 982.5,480 980,490 986.25,502.5 990,512.5 987.5,523.75 987.5,523.75 980,523.75 973.75,527.5 965,522.5 952.5,517 940,524.5 940,524.5 938.75,512.5 933.75,510 930,515 925,507.5 918.75,500 917.5,490 927.5,480 942.5,475 960,471.25 977.5,467.5 985,466.25"/>
<polygon points="900,500 906.25,496.25 911.25,501.25 906.25,505"/>
<polygon points="897.5,518.75 906.25,510 916.25,506.25 917.5,510 910,517.5 902.5,525"/>
<polygon points="803.75,753.75 808.75,750 813.75,755 822.5,756.25 831.25,760 833.75,766.25 840,772.5 845,768.75 843.75,763.75 852.5,768 860,767.5 865,772.5 875,775 878.75,778.75 883.25,787 883.25,787 876.25,790 871.25,797.5 866.25,803.75 860,808.75 851.25,812 849.5,815.5 849.5,815.5 842.5,813.75 833.75,815 822.5,812 811.25,810 807.5,817.5 800,822 793.75,822 786.25,817 786.25,817 777.5,807.5 770,798.75 762.5,791.25 760,785 758,780 753.75,773.75 758.75,772.5 767.5,768.75 780,762.5 790,756.25 793.75,750 798.75,749.5 800,753.75 803.75,753.75"/>
<polygon points="883.25,787 888.75,788.75 894.5,783.75 898.75,788 902.5,787.5 905,792.5 910,790 918.75,786.25 926.25,785.5 932.5,783 945,783.75 956.25,789.5 956.25,789.5 953.75,800 952.5,810 952.5,810 945,812.5 937.5,808.75 930,811.25 920,812.5 915,818.75 905,822.5 896.25,827.5 888.75,831.25 887.5,836.25 878.75,839.5 870,841.25 862.5,837.5 855.5,835 855.5,835 850,830 848.75,822.5 849.5,815.5 849.5,815.5 851.25,812 860,808.75 866.25,803.75 871.25,797.5 876.25,790 883.25,787"/>
<polygon points="1254.5,1147.5 1262.5,1141.25 1270,1133.75 1280,1131.25 1290,1125 1297.5,1117.5 1303,1113 1298.75,1121.25 1293,1128.75 1295.5,1135 1290,1137.5 1285,1143.75 1280,1150 1275,1153.75 1261.25,1154.25"/>
<polygon points="818,1197 822.5,1198 823.25,1200 819,1199.5"/>
</g>
<g fill="#cfe8bb" stroke="#cfe8bb" stroke-width="0.7" stroke-linejoin="round">
<polygon points="896.25,586.25 902.5,577.5 912.5,575 925,573.75 932.5,571.25 947.5,572.5 955,566.25 960,571.25 970,572.5 980,575 988.75,580 988.75,580 990,590 995,592.5 992.5,597.5 986.25,600 981.25,610 980,625 985,627.5 980,630 970,632.5 967.5,640 950,642 950,642 946.25,635 937.5,632.5 937.5,632.5 932.5,630 931.25,620 926.25,613.75 917.5,613.75 903.75,610 903.75,610 898.75,597.5 896.25,586.25"/>
<polygon points="787.5,663.75 802.5,655 825,642.5 840,635 855,631.25 862.5,632.5 865,641.25 875,645 882.5,638.75 882.5,638.75 910,638 923.75,635 937.5,632.5 937.5,632.5 946.25,635 950,642 950,642 953.75,655 960,666.25 962,676.25 957.5,685 952.5,692.5 960,698.75 962,708.75 962,708.75 965,717.5 971.25,725 976.25,732.5 977,742.5 971.25,750 965,760 960,770 957,776.25 960,785 962,790 956.25,789.5 956.25,789.5 945,783.75 932.5,783 926.25,785.5 918.75,786.25 910,790 905,792.5 902.5,787.5 898.75,788 894.5,783.75 888.75,788.75 883.25,787 883.25,787 878.75,778.75 875,775 865,772.5 860,767.5 852.5,768 843.75,763.75 845,768.75 840,772.5 833.75,766.25 831.25,760 822.5,756.25 813.75,755 808.75,750 803.75,753.75 803.75,753.75 805.5,745 803.75,735 798.75,723.75 798.75,713.75 794.5,705 788.75,693.75 787.5,685 791.25,675 787.5,663.75"/>
<polygon points="788.75,915.5 789.87,923.71 794.5,933.64 798.48,927.68 803.11,921.06 806.42,920.4 808.41,925.03 813.71,927.02 816.36,932.98 819.01,942.25 823.64,947.55 825.63,955.5 832.25,962.12 840.2,967.42 846.82,971.39 852.12,970.07 860.07,972.72 866.69,978.01 871.99,984.64 879.93,985.96 887.88,990.6 895.83,993.91 900.46,997.22 900.46,997.22 898.75,993.75 898.75,993.75 890,990 880,986.25 871.25,976.25 862.5,965 852.5,955 843.75,946.25 838.75,937.5 834.5,928.75 838.75,922.5 843.75,924.5 850,920 857.5,918 867.5,919.5 877.5,921.25 883.75,918.75 892.5,920 898.75,923.75 905,922.5 905,922.5 903.75,916.25 910,913.75 905,910 898.75,902.5 897.5,892.5 897.5,892.5 890,897.5 882.5,898.75 872.5,897.5 862.5,892.5 853.75,885 845,880 845,880 838.75,885 832.5,891.25 828.75,898.75 823.75,903.75 825,910 821.25,913.75 813.75,912.5 807.5,908.75 801.25,915 793.75,913.75 788.75,915.5"/>
<polygon points="943.75,1074.5 950,1072.5 951.25,1065 956.25,1060 957.5,1050 962.5,1043.75 961.25,1036.25 961.25,1036.25 967.5,1035 976.25,1031.25 985,1026.25 995,1022.5 998.75,1017.5 998.75,1017.5 1010,1013.75 1020,1010 1028.75,1005 1036.25,1003 1042.5,1006.25 1052.5,1008 1062.5,1005 1071.25,1001.25 1071.25,993.75 1076.25,990 1076.25,990 1081.25,993.75 1082.5,998.75 1078.75,1005 1078,1012.5 1075,1019.5 1075,1019.5 1067.15,1018.61 1059.21,1017.95 1052.58,1017.95 1045.96,1020.6 1040.66,1023.25 1035.36,1027.22 1030.07,1028.54 1024.77,1029.87 1022.78,1032.52 1026.09,1036.49 1032.72,1039.8 1038.68,1044.7 1032.72,1043.11 1028.74,1042.45 1031.66,1049.07 1030.07,1050.4 1024.77,1044.44 1020.79,1045.1 1019.47,1048.41 1021.06,1052.38 1018.15,1052.65 1015.5,1048.41 1014.17,1045.76 1008.87,1043.77 1006.23,1039.8 1004.9,1037.81 1000.26,1041.13 999.34,1045.76 1000.93,1052.38 1004.9,1057.68 1008.87,1062.98 1014.17,1068.28 1018.15,1073.58 1020.13,1077.55 1015.5,1076.23 1012.19,1074.9 1010.2,1077.55 1012.85,1081.52 1016.16,1084.17 1012.19,1086.16 1011.52,1089.47 1016.82,1092.12 1024.77,1096.75 1030.07,1099.01 1032.72,1101.39 1040.66,1103.38 1041.99,1109.34 1044.64,1115.96 1043.97,1117.95 1040.66,1114.64 1036.69,1111.99 1030.07,1112.65 1024.77,1113.97 1022.12,1115.96 1022.78,1109.34 1019.47,1107.35 1014.17,1108.01 1008.87,1105.36 1003.58,1104.7 996.95,1106.03 990.33,1107.35 983.71,1109.34 975.76,1110 971.79,1105.36 966.49,1100.07 963.84,1096.09 968.48,1094.11 971.79,1092.12 970.46,1090.13 965.17,1090.13 959.87,1089.47 954.57,1084.17 949.27,1078.87 946.62,1074.9 943.75,1074.5"/>
<polygon points="976.42,1122.58 979.74,1115.96 985.03,1113.31 990.33,1110.66 995.63,1109.34 1002.25,1110.66 1008.87,1112.65 1015.5,1114.64 1019.47,1115.96 1022.12,1119.93 1024.77,1122.58 1030.07,1123.91 1032.05,1127.22 1028.74,1129.87 1026.09,1131.85 1024.11,1129.21 1020.79,1127.88 1016.16,1128.54 1018.15,1133.18 1021.46,1139.14 1024.77,1146.42 1028.08,1157.02 1024.77,1153.71 1020.13,1149.07 1016.82,1151.72 1014.83,1155.7 1012.19,1159.67 1010.2,1153.05 1006.89,1147.75 1002.25,1146.42 998.28,1149.07 997.62,1153.05 994.3,1152.38 990.99,1146.42 989.67,1141.13 986.36,1134.5 982.38,1129.21 978.41,1125.89"/>
<polygon points="1044.64,1184.83 1048.61,1182.19 1055.23,1181.52 1059.21,1180.86 1064.5,1183.51 1071.13,1182.85 1077.75,1181.52 1084.37,1182.19 1090.99,1181.52 1096.29,1180.86 1098.94,1183.51 1104.24,1181.52 1109.54,1179.54 1110.86,1182.19 1109.54,1185.5 1102.91,1187.48 1096.29,1188.81 1090.99,1190.79 1085.7,1192.52 1080.4,1194.37 1075.1,1193.44 1069.8,1192.12 1063.18,1191.46 1056.56,1191.72 1049.93,1191.46 1045.3,1189.47"/>
<polygon points="1018.15,1085.5 1024.77,1086.16 1031.39,1089.47 1038.01,1092.12 1041.99,1096.09 1045.96,1101.39 1051.26,1103.38 1053.25,1105.36 1049.93,1107.35 1044.64,1104.04 1040.66,1100.73 1035.36,1098.74 1031.39,1096.09 1027.42,1094.77 1022.12,1090.79 1018.81,1088.15"/>
<polygon points="1040.66,1027.22 1043.97,1025.23 1046.62,1027.88 1045.3,1030.53 1041.99,1029.87"/>
<polygon points="1057.22,1047.09 1063.84,1045.76 1063.84,1048.41 1059.87,1050.4 1057.22,1049.74"/>
<polygon points="1078.41,1064.97 1083.05,1060.99 1088.34,1059.01 1092.32,1062.32 1094.3,1066.95 1094.97,1068.94 1088.34,1069.34 1083.05,1067.62"/>
<polygon points="1082.38,1084.17 1087.02,1082.85 1089.67,1088.15 1089.01,1094.11 1086.36,1094.11 1085.03,1089.47"/>
<polygon points="1104.24,1103.38 1108.87,1101.39 1112.85,1103.38 1110.86,1106.03 1106.23,1105.63"/>
<polygon points="1140.66,1142.45 1144.64,1137.81 1149.27,1135.17 1148.61,1141.13 1145.3,1147.75 1141.32,1151.46 1140,1147.75"/>
<polygon points="1126.75,1164.3 1129.67,1161.66 1129.67,1168.28 1127.42,1166.95"/>
<polygon points="940,1074.9 941.99,1078.87 941.32,1081.52 940,1080.2"/>
<polygon points="957.22,1114.64 961.19,1111.99 965.17,1117.28 961.85,1118.61 958.54,1117.28"/>
<polygon points="964.5,1126.56 967.15,1126.29 970.46,1129.87 968.08,1130.26"/>
<polygon points="1048.34,1080.86 1052.58,1082.58 1051.92,1083.91 1048.61,1082.19"/>
<polygon points="1059.21,1108.01 1065.17,1110.66 1064.5,1112.25 1059.87,1109.6"/>
<polygon points="1079.07,1128.54 1082.38,1126.56 1083.71,1129.87 1082.38,1133.18 1079.74,1131.19"/>
<polygon points="1072.45,1131.19 1075.76,1129.87 1075.76,1132.52 1073.11,1132.91"/>
<polygon points="1024.77,1162.32 1026.75,1162.05 1028.08,1166.95 1025.83,1166.29"/>
<polygon points="1121.46,1127.22 1124.77,1126.29 1124.11,1127.88 1121.72,1128.54"/>
<polygon points="959.87,1097.42 962.52,1096.75 961.85,1102.72 959.87,1103.38"/>
<polygon points="1016.16,1050.4 1020.79,1051.72 1021.46,1053.44 1017.48,1052.65"/>
<polygon points="1070.46,1115.96 1073.11,1115.3 1073.11,1117.02 1071.13,1117.28"/>
<polygon points="1091.66,1110.66 1096.29,1110 1095.63,1111.99 1092.32,1112.25"/>
<polygon points="1090.33,1134.5 1092.98,1132.52 1093.64,1134.5 1091.26,1135.83"/>
<polygon points="1056.56,1145.1 1059.87,1143.77 1059.21,1145.76 1056.82,1146.42"/>
<polygon points="1082.38,1149.07 1085.03,1148.41 1085.03,1150.13 1082.78,1150.4"/>
<polygon points="1115.5,1124.57 1118.15,1123.64 1118.15,1125.23 1115.89,1125.89"/>
<polygon points="1129.4,1129.21 1134.7,1128.54 1134.44,1129.87 1129.67,1130.26"/>
<polygon points="804.17,930.33 806.03,930.07 807.75,936.95 805.76,938.28"/>
<polygon points="810.4,933.64 812.65,932.98 813.71,935.63 811.32,936.29"/>
<polygon points="815.7,943.58 818.34,944.9 820.99,950.2 819.01,949.54"/>
<polygon points="820.99,958.15 824.3,959.47 828.28,963.44 826.29,964.11"/>
<polygon points="848.81,974.04 856.09,973.77 858.74,976.03 852.12,976.42"/>
<polygon points="854.77,980 861.39,979.6 864.04,981.32 857.42,981.72"/>
<polygon points="861.39,991.26 865.36,991.52 864.7,992.85 861.66,992.58"/>
<polygon points="849.47,1003.18 852.12,1003.18 851.85,1004.5 849.47,1004.5"/>
</g>
<g fill="#fce9a1" stroke="#fce9a1" stroke-width="0.7" stroke-linejoin="round">
<polygon points="940,524.5 952.5,517 965,522.5 973.75,527.5 980,523.75 987.5,523.75 987.5,523.75 996.25,527.5 997.5,540 1006.25,546.25 1006.25,546.25 1011.25,557.5 1003.75,572.5 992.5,575 988.75,580 988.75,580 980,575 970,572.5 960,571.25 955,566.25 947.5,572.5 932.5,571.25 925,573.75 912.5,575 902.5,577.5 896.25,586.25 896.25,586.25 893,575 895,560 898.75,545 911.25,535 915,540 925,546.25 931.25,553.75 938.75,550 942.5,543.75 941.25,532.5 940,524.5"/>
<polygon points="855.5,835 862.5,837.5 870,841.25 878.75,839.5 887.5,836.25 888.75,831.25 896.25,827.5 905,822.5 915,818.75 920,812.5 930,811.25 937.5,808.75 945,812.5 952.5,810 952.5,810 958.75,815 967.5,819.5 967.5,819.5 962.5,826.25 956.25,832.5 952.5,843.75 948.75,852.5 946.25,862.5 942.5,871.25 940,876.25 933.75,878.75 926.25,883.75 926.25,883.75 915,883.75 906.25,887.5 897.5,892.5 897.5,892.5 890,897.5 882.5,898.75 872.5,897.5 862.5,892.5 853.75,885 845,880 845,880 841.25,875 841.25,875 842.5,865 843.75,857.5 846.25,851.25 843.75,846.25 852.5,843.75 854.5,837.5 855.5,835"/>
<polygon points="982.5,932.5 989.5,935 988.75,940 992.5,943 1000,941.25 1011.25,941.25 1021.25,939.5 1035,938.75 1046.25,937.5 1052.5,931.25 1057.5,925 1067.5,920 1077.5,915.5 1085,917.5 1092.5,916.25 1097.5,919.5 1110,920 1109.5,910 1108.75,900 1111.25,892.5 1115,885 1121.25,877.5 1121.25,870 1116.25,866.25 1116.25,866.25 1110,868.75 1102.5,873.75 1095,873.75 1090,868.75 1090,868.75 1087.5,863.75 1085,855 1082.5,843.75 1078.75,833.75 1072.5,825 1065,817.5 1055,810 1048.75,802.5 1042.5,797.5 1042.5,797.5 1035,803.75 1025,810 1015,813.75 1010,820 1001.25,815 990,817 981.25,818.75 975,817 967.5,819.5 967.5,819.5 962.5,826.25 956.25,832.5 952.5,843.75 948.75,852.5 946.25,862.5 942.5,871.25 940,876.25 933.75,878.75 926.25,883.75 926.25,883.75 927.5,887.5 936.25,893.75 938.75,902.5 950,908.75 955,917.5 965,922.5 972.5,925 977.5,920 981.25,925 977.5,932.5 982.5,932.5"/>
<polygon points="982.5,932.5 989.5,935 988.75,940 992.5,943 1000,941.25 1011.25,941.25 1021.25,939.5 1035,938.75 1046.25,937.5 1052.5,931.25 1057.5,925 1067.5,920 1077.5,915.5 1085,917.5 1092.5,916.25 1097.5,919.5 1110,920 1110,920 1107.5,927.5 1101.25,937.5 1102,950 1097.5,960 1100,967.5 1109.5,973.75 1109.5,973.75 1100,976.25 1092.5,975 1082.5,981.25 1076.25,986.25 1076.25,990 1076.25,990 1071.25,993.75 1071.25,1001.25 1062.5,1005 1052.5,1008 1042.5,1006.25 1036.25,1003 1028.75,1005 1020,1010 1010,1013.75 998.75,1017.5 998.75,1017.5 1002,1008.75 1000,1000 995,993.75 986.25,987.5 986.25,987.5 985,976.25 990,970 993.75,961.25 987.5,957.5 980,950 978.75,938.75 982.5,932.5"/>
</g>
<g fill="#adadad" stroke="#adadad" stroke-width="0.7" stroke-linejoin="round">
<polygon points="663,855 670,854.5 681.25,852.5 682.5,848.75 685,849.5 686.25,852.5 696.25,853.75 702.5,857.5 663,855 655,857.5 650,858.75 650,865 642.5,871.25 636.25,880 631.25,887.5 629.5,893.75 633.75,893.75 636.25,888.75 646.25,887 646.25,887 646.25,895 651.25,904.25 658.75,902.5 668.75,901.25 673.75,895 679.5,889.5 683.75,896.25 687.5,900 689.5,906.25 691.25,905.5 692.5,900 695,892.5 700,887 704.5,892.5 710,890 714.5,893.75 716.25,885 721.25,883.75 720,880 720.75,873.75 720.75,873.75 716.25,876.25 710,873.75 703.75,871.25 701.25,868.75 704.5,863.75 702.5,857.5"/>
</g>
<polygon points="684.2,576.5 692.8,571.6 699,574 701.5,582.6 696.5,581.4 692.8,579 689.2,581.4 685.5,582.6" fill="#fff" />
<polygon points="523.75,992 529.5,992.5 530.5,995.5 525,996.25" fill="#eee" stroke="#111" stroke-width="0.8"/>
<polygon points="764.25,961.25 766.25,962 765.5,964 763.75,963.25" fill="none" stroke="#111" stroke-width="0.8"/>
<polygon points="766.25,1021.5 768.75,1022 768,1024.5 765.75,1023.75" fill="none" stroke="#111" stroke-width="0.8"/>
<g fill="none" stroke="#0d0d12" stroke-width="1.25" stroke-linejoin="round" stroke-linecap="round">
<polyline points="929.27,165.36 928.21,168.41 922.38,168.41 921.06,173.71 916.03,179.27 915.76,186.29 913.38,188.28"/>
<polyline points="913.38,188.28 912.05,186.29 912.72,181.66 912.05,175.03 908.08,169.07 901.46,166.42 894.83,162.45 890.86,165.1 882.91,169.07 880.93,173.71 880.26,185.63 880.93,198.87 876.95,210.13 872.32,211.46 865.7,208.15 860.4,209.47 856.42,213.44 849.14,213.44 844.5,208.81 839.21,202.85 835.23,198.87 831.92,199.54 831.26,206.16 827.02,206.82"/>
<polyline points="827.02,206.82 824.64,209.47 823.31,216.09 822.65,227.35 812.72,225.36 804.11,225.36 802.78,231.99 802.12,239.93 794.17,241.92 790.86,246.56 787.55,253.18 784.9,260.46 786.23,267.75 783.58,272.38 779.6,283.64 777.62,291.59 778.28,295.56 772.98,299.54 768.34,300.86 768.75,322.5 761.25,345 765,352.5 763.75,361.25 751.25,363.75 743.75,376.25 740,387.5 743.75,415 745,432.5 752.5,445 747.5,455 750,467.5 746.25,480 738.75,492.5 740,507.5 736.25,517"/>
<polyline points="827.02,206.82 829.93,209.47 835.23,214.77 841.85,218.74 850.46,222.05 856.42,225.36 862.38,230.66 865.7,235.96 867.02,246.56 870.33,249.21 870.33,254.5 874.3,261.13 877.62,266.42 876.29,274.37 878.94,282.32 882.91,288.94 885.56,294.24"/>
<polyline points="913.38,188.28 912.72,192.25 914.7,198.87 916.03,206.82 921.32,212.12 927.95,214.77 934.57,220.07 938.54,225.36 937.22,235.96 935.23,243.91 937.22,250.53 940,254.5 952.5,270 956.25,280 955,290 960,302.5 967.5,310 975,322.5 975,333.75 995,345 1001.25,352.5 1000,367.5 992.5,387.5 982.5,410 970,436.25"/>
<polyline points="690,636.25 702.5,638.75"/>
<polyline points="985,466.25 986.25,470 982.5,480 980,490 986.25,502.5 990,512.5 987.5,523.75"/>
<polyline points="987.5,523.75 980,523.75 973.75,527.5 965,522.5 952.5,517 940,524.5"/>
<polyline points="987.5,523.75 996.25,527.5 997.5,540 1006.25,546.25"/>
<polyline points="1006.25,546.25 1011.25,557.5 1003.75,572.5 992.5,575 988.75,580"/>
<polyline points="988.75,580 980,575 970,572.5 960,571.25 955,566.25 947.5,572.5 932.5,571.25 925,573.75 912.5,575 902.5,577.5 896.25,586.25"/>
<polyline points="903.75,610 917.5,613.75 926.25,613.75 931.25,620 932.5,630 937.5,632.5"/>
<polyline points="937.5,632.5 946.25,635 950,642"/>
<polyline points="988.75,580 990,590 995,592.5 992.5,597.5 986.25,600 981.25,610 980,625 985,627.5 980,630 970,632.5 967.5,640 950,642"/>
<polyline points="588.12,736.88 589.38,738.75 595,739.38 600,740.62 604.38,738.12 608.75,735.62 615,735.62 620,736.25 622.5,741.25 627.5,743.12 631.25,745.62 633.75,748.75 631.25,753.75 630.62,756.88 635,758.12"/>
<polyline points="635,758.12 637.5,760.62 640,763.75 642.5,767.5 643.12,770.62 640,772.5 637.5,775.62 635,776.25"/>
<polyline points="635,776.25 631.88,781.25 630.62,785.62 632.5,790 631.88,794.38"/>
<polyline points="631.88,794.38 628.12,794.75 624.38,795 621.88,791.25 617.5,788.12 613.12,784.38 611.88,780 612.5,775.62 608.75,780 605,780 600,778.75 600.62,773.75 597.5,770 593.75,767.5 590.62,763.75 586.88,761.25 583.75,758.75 583.12,754.38 577.5,753.75 573.75,750 572.5,743.75"/>
<polyline points="635,776.25 638.12,776.25 640,780 643.12,784.38 645,788.12 643.75,792.5 641.88,795.62"/>
<polyline points="641.88,795.62 637.5,795.62 631.88,794.38"/>
<polyline points="635,758.12 638.12,756.25 637.5,751.88 635,750 638.12,746.88 640.62,744.38 641.25,737.5 638.75,731.25 638.12,727.5 641.25,725 646.25,725.62 652.5,723.12 653.75,718.12 658.12,714.38 657.5,708.75 652.5,707.5 652.5,703.75 657.5,703.12 660,697.5 661.88,690 662.5,685.62"/>
<polyline points="787.5,663.75 791.25,675 787.5,685 788.75,693.75 794.5,705 798.75,713.75 798.75,723.75 803.75,735 805.5,745 803.75,753.75"/>
<polyline points="803.75,753.75 800,753.75 798.75,749.5 793.75,750 790,756.25 780,762.5 767.5,768.75 758.75,772.5 753.75,773.75 758,780 760,785 762.5,791.25 770,798.75 777.5,807.5 786.25,817"/>
<polyline points="786.25,817 781.25,822.5 772.5,831.25 767,836.25 771.25,846.25 773.75,853.75 768.75,851.25 755,853.75 745,855 732.5,860 722.5,856.25 716.25,862.5 710,857.5 702.5,857.5"/>
<polyline points="702.5,857.5 696.25,853.75 686.25,852.5 685,849.5 682.5,848.75 681.25,852.5 670,854.5 663,855"/>
<polyline points="641.88,795.62 645,798.12 647.5,803.12 649.38,805.62 655,806.88 660,807.5 666.25,810 672.5,811.88 676.88,813.12 672.5,822.5 667.5,832.5 663.75,845 663,855"/>
<polyline points="882.5,638.75 910,638 923.75,635 937.5,632.5"/>
<polyline points="950,642 953.75,655 960,666.25 962,676.25 957.5,685 952.5,692.5 960,698.75 962,708.75"/>
<polyline points="962,708.75 965,717.5 971.25,725 976.25,732.5 977,742.5 971.25,750 965,760 960,770 957,776.25 960,785 962,790 956.25,789.5"/>
<polyline points="956.25,789.5 945,783.75 932.5,783 926.25,785.5 918.75,786.25 910,790 905,792.5 902.5,787.5 898.75,788 894.5,783.75 888.75,788.75 883.25,787"/>
<polyline points="883.25,787 878.75,778.75 875,775 865,772.5 860,767.5 852.5,768 843.75,763.75 845,768.75 840,772.5 833.75,766.25 831.25,760 822.5,756.25 813.75,755 808.75,750 803.75,753.75"/>
<polyline points="883.25,787 876.25,790 871.25,797.5 866.25,803.75 860,808.75 851.25,812 849.5,815.5"/>
<polyline points="849.5,815.5 842.5,813.75 833.75,815 822.5,812 811.25,810 807.5,817.5 800,822 793.75,822 786.25,817"/>
<polyline points="849.5,815.5 848.75,822.5 850,830 855.5,835"/>
<polyline points="956.25,789.5 953.75,800 952.5,810"/>
<polyline points="952.5,810 945,812.5 937.5,808.75 930,811.25 920,812.5 915,818.75 905,822.5 896.25,827.5 888.75,831.25 887.5,836.25 878.75,839.5 870,841.25 862.5,837.5 855.5,835"/>
<polyline points="952.5,810 958.75,815 967.5,819.5"/>
<polyline points="967.5,819.5 962.5,826.25 956.25,832.5 952.5,843.75 948.75,852.5 946.25,862.5 942.5,871.25 940,876.25 933.75,878.75 926.25,883.75"/>
<polyline points="926.25,883.75 915,883.75 906.25,887.5 897.5,892.5"/>
<polyline points="897.5,892.5 890,897.5 882.5,898.75 872.5,897.5 862.5,892.5 853.75,885 845,880"/>
<polyline points="845,880 841.25,875"/>
<polyline points="841.25,875 842.5,865 843.75,857.5 846.25,851.25 843.75,846.25 852.5,843.75 854.5,837.5 855.5,835"/>
<polyline points="841.25,875 836.25,872.5 831.25,877.5 822.5,880 812.5,883.75 805,886.25 796.25,885 785,883.75"/>
<polyline points="785,883.75 775,882.5 762.5,881.25 757.5,876.25 755,870 735,873.75 732.5,878 725,877.5 720.75,873.75"/>
<polyline points="720.75,873.75 716.25,876.25 710,873.75 703.75,871.25 701.25,868.75 704.5,863.75 702.5,857.5"/>
<polyline points="785,883.75 782.5,890 787.5,895 786.25,903.75 791.25,910 788.75,915.5"/>
<polyline points="788.75,915.5 793.75,913.75 801.25,915 807.5,908.75 813.75,912.5 821.25,913.75 825,910 823.75,903.75 828.75,898.75 832.5,891.25 838.75,885 845,880"/>
<polyline points="663,855 655,857.5 650,858.75 650,865 642.5,871.25 636.25,880 631.25,887.5 629.5,893.75 633.75,893.75 636.25,888.75 646.25,887"/>
<polyline points="646.25,887 646.25,895 651.25,904.25 658.75,902.5 668.75,901.25 673.75,895 679.5,889.5 683.75,896.25 687.5,900 689.5,906.25 691.25,905.5 692.5,900 695,892.5 700,887 704.5,892.5 710,890 714.5,893.75 716.25,885 721.25,883.75 720,880 720.75,873.75"/>
<polyline points="646.25,887 646.25,892.5 650,902.5 647.5,906.25 651.25,917.5 648.75,923.75 642.5,926.25 646.25,933.75 648.75,940 646.25,948.75 651.25,953.75 662.5,956.25 660,963.75 655,967.5"/>
<polyline points="560.75,1001.25 553.75,1000.5 545,1002 536.25,998.75 530,996.25 523.75,992.5 517.5,986.25 507.5,985 502.5,986.25 492.5,981.25 482.5,980 475,975 467.5,971.25 462.5,967.5 457,961.25"/>
<polyline points="295.5,972 302.5,968 312,967.5 313,972.5 310,976.25 317.5,977.5 326.25,981.25 332.5,978.75 340,980 345,982.5 346.25,991.25 351.25,994.5 347.5,1000 340,1003 332.5,1007.5 333,1018.75 330.5,1028.75 326.25,1030 327,1037.5 322.5,1045 311.25,1044.5 315,1055 319.5,1065 312.5,1073.75 308.75,1080 311.25,1088.75 315,1090 312.5,1093 305.5,1095 301.25,1100 298,1105 298,1117"/>
<polyline points="900.46,997.22 898.75,993.75"/>
<polyline points="898.75,993.75 890,990 880,986.25 871.25,976.25 862.5,965 852.5,955 843.75,946.25 838.75,937.5 834.5,928.75 838.75,922.5 843.75,924.5 850,920 857.5,918 867.5,919.5 877.5,921.25 883.75,918.75 892.5,920 898.75,923.75 905,922.5"/>
<polyline points="905,922.5 903.75,916.25 910,913.75 905,910 898.75,902.5 897.5,892.5"/>
<polyline points="982.5,932.5 977.5,932.5 981.25,925 977.5,920 972.5,925 965,922.5 955,917.5 950,908.75 938.75,902.5 936.25,893.75 927.5,887.5 926.25,883.75"/>
<polyline points="982.5,932.5 989.5,935 988.75,940 992.5,943 1000,941.25 1011.25,941.25 1021.25,939.5 1035,938.75 1046.25,937.5 1052.5,931.25 1057.5,925 1067.5,920 1077.5,915.5 1085,917.5 1092.5,916.25 1097.5,919.5 1110,920"/>
<polyline points="1116.25,866.25 1110,868.75 1102.5,873.75 1095,873.75 1090,868.75"/>
<polyline points="1090,868.75 1087.5,863.75 1085,855 1082.5,843.75 1078.75,833.75 1072.5,825 1065,817.5 1055,810 1048.75,802.5 1042.5,797.5"/>
<polyline points="1042.5,797.5 1035,803.75 1025,810 1015,813.75 1010,820 1001.25,815 990,817 981.25,818.75 975,817 967.5,819.5"/>
<polyline points="1109.5,973.75 1100,976.25 1092.5,975 1082.5,981.25 1076.25,986.25 1076.25,990"/>
<polyline points="998.75,1017.5 1010,1013.75 1020,1010 1028.75,1005 1036.25,1003 1042.5,1006.25 1052.5,1008 1062.5,1005 1071.25,1001.25 1071.25,993.75 1076.25,990"/>
<polyline points="986.25,987.5 995,993.75 1000,1000 1002,1008.75 998.75,1017.5"/>
<polyline points="986.25,987.5 985,976.25 990,970 993.75,961.25 987.5,957.5 980,950 978.75,938.75 982.5,932.5"/>
<polyline points="1076.25,990 1081.25,993.75 1082.5,998.75 1078.75,1005 1078,1012.5 1075,1019.5"/>
<polyline points="961.25,1036.25 962.5,1043.75 957.5,1050 956.25,1060 951.25,1065 950,1072.5 943.75,1074.5"/>
<polyline points="961.25,1036.25 967.5,1035 976.25,1031.25 985,1026.25 995,1022.5 998.75,1017.5"/>
<polyline points="423,592 416.25,598.75 410,605 401.25,611.25 405,617.5 410,621.25 416.25,618 420,620 422.5,626.25 426.25,630"/>
</g>
</g>
<!-- insets -->
<rect x="1143.2" y="146.8" width="147.7" height="165" fill="#f2f2f2" opacity="0.6"/>
<rect x="1144.7" y="148.3" width="144.7" height="162" fill="#fff"/>
<g fill="#85cabb"><polygon points="1169.23,192.62 1175.97,189.76 1183.53,189.15 1191.3,192.21 1199.47,195.28 1203.97,199.36 1204.58,202.43 1197.43,205.49 1189.25,207.54 1181.08,205.49 1177,203.45 1170.87,202.43 1170.87,196.3"/><polygon points="1201.51,206.11 1206.62,206.51 1208.67,208.56 1204.58,208.97"/><polygon points="1203.56,217.75 1208.67,214.69 1213.77,212.24 1214.8,213.67 1210.71,218.37 1217.86,219.8 1220.93,224.9 1228.08,222.86 1234.21,224.9 1241.36,227.97 1246.47,233.08 1249.53,237.16 1246.47,239.21 1252.6,238.19 1258.73,241.25 1263.83,246.36 1263.83,251.47 1261.79,257.6 1259.75,254.53 1255.66,256.57 1257.7,260.66 1252.6,263.32 1244.42,262.09 1236.25,260.05 1228.08,258.62 1219.9,254.53 1212.75,249.42 1207.64,243.29 1206.01,239.21 1208.05,233.08 1206.62,226.95 1207.64,221.84"/></g>
<rect x="1300.2" y="147.9" width="146.7" height="162.8" fill="#adadad"/>
<polygon points="1398.69,147.87 1446.91,147.87 1446.91,298.46 1440.58,298.05 1435.47,294.38 1430.36,291.31 1424.23,289.68 1416.06,289.68 1409.93,292.74 1404.82,291.92 1402.16,288.25 1402.78,280.07 1409.93,275.99 1410.95,269.86 1406.86,263.73 1408.91,256.57 1407.48,246.36 1401.75,244.31 1395.62,236.14 1387.45,233.08 1389.5,224.9 1393.58,216.73 1388.47,208.56 1384.39,205.49 1387.04,196.3 1381.32,190.17 1376.21,184.04 1382.34,175.87 1389.5,169.74 1394.6,159.52" fill="#264e96"/>
<polyline points="1446.91,298.46 1440.58,298.05 1435.47,294.38 1430.36,291.31 1424.23,289.68 1416.06,289.68 1409.93,292.74 1404.82,291.92 1402.16,288.25 1402.78,280.07 1409.93,275.99 1410.95,269.86 1406.86,263.73 1408.91,256.57 1407.48,246.36 1401.75,244.31 1395.62,236.14 1387.45,233.08 1389.5,224.9 1393.58,216.73 1388.47,208.56 1384.39,205.49 1387.04,196.3 1381.32,190.17 1376.21,184.04 1382.34,175.87 1389.5,169.74 1394.6,159.52 1398.69,147.87" fill="none" stroke="#111" stroke-width="1.3"/>
<polyline points="1376.21,184.04 1373.15,194.25 1368.04,202.43 1362.93,212.64 1359.87,222.86 1359.87,231.03 1361.91,239.21 1367.02,249.42 1370.08,259.64 1371.11,267.81 1368.04,277.01 1360.89,282.12 1354.76,287.22 1355.78,293.35 1360.89,291.31 1370.08,288.25 1380.3,287.22 1383.77,294.38 1393.58,292.33 1402.16,288.65" fill="none" stroke="#111" stroke-width="1.3"/>
<rect x="1300.2" y="147.9" width="146.7" height="14" fill="url(#ft)" opacity="0.45"/>
<text x="1148" y="169.7" font-size="14.3" fill="#000">Malta</text>
<text x="1304.3" y="169.7" font-size="14.45" fill="#000" stroke="#fff" stroke-width="3" stroke-linejoin="round" paint-order="stroke">Liechtenstein</text>
<!-- EU circle -->
<circle cx="583.2" cy="250.7" r="86.1" fill="#fff" stroke="#666" stroke-width="2.9"/>

<!-- legend -->
<g fill="#404040">
<rect x="172.1" y="353.2" width="42.8" height="24.7" fill="#1f2a6c"/>
<rect x="172.1" y="380.75" width="42.8" height="24.7" fill="#264e96"/>
<rect x="172.1" y="408.3" width="42.8" height="24.7" fill="#63b0c4"/>
<rect x="172.1" y="435.85" width="42.8" height="24.7" fill="#85cabb"/>
<rect x="172.1" y="463.4" width="42.8" height="24.7" fill="#cfe8bb"/>
<rect x="172.1" y="490.95" width="42.8" height="24.7" fill="#fce9a1"/>
<rect x="172.1" y="526.3" width="42.8" height="25.3" fill="#adadad"/>
</g>
<!-- footer -->
<rect x="315.8" y="1215.8" width="34.8" height="23.3" fill="#1f3e98"/>
<circle cx="333.20" cy="1219.80" r="1.05" fill="#f8d12e"/><circle cx="337.00" cy="1220.82" r="1.05" fill="#f8d12e"/><circle cx="339.78" cy="1223.60" r="1.05" fill="#f8d12e"/><circle cx="340.80" cy="1227.40" r="1.05" fill="#f8d12e"/><circle cx="339.78" cy="1231.20" r="1.05" fill="#f8d12e"/><circle cx="337.00" cy="1233.98" r="1.05" fill="#f8d12e"/><circle cx="333.20" cy="1235.00" r="1.05" fill="#f8d12e"/><circle cx="329.40" cy="1233.98" r="1.05" fill="#f8d12e"/><circle cx="326.62" cy="1231.20" r="1.05" fill="#f8d12e"/><circle cx="325.60" cy="1227.40" r="1.05" fill="#f8d12e"/><circle cx="326.62" cy="1223.60" r="1.05" fill="#f8d12e"/><circle cx="329.40" cy="1220.82" r="1.05" fill="#f8d12e"/>
<text x="162.11" y="63.6" font-size="51.5" font-weight="bold" fill="#444" textLength="625.31" lengthAdjust="spacingAndGlyphs">Hourly labour costs, 2024</text>
<text x="161.31" y="111.6" font-size="39.7" fill="#444" textLength="1106.63" lengthAdjust="spacingAndGlyphs">(in €, whole economy*, enterprises with 10 or more employees)</text>
<text x="170.32" y="337.8" font-size="25.6" fill="#444" textLength="126.41" lengthAdjust="spacingAndGlyphs">€ per hour</text>
<text x="226.28" y="373.2" font-size="24.6" fill="#444" textLength="48.52" lengthAdjust="spacingAndGlyphs">≥ 46</text>
<text x="227.11" y="400.8" font-size="24.6" fill="#444" textLength="101.94" lengthAdjust="spacingAndGlyphs">42 – &lt; 46</text>
<text x="227.11" y="428.4" font-size="24.6" fill="#444" textLength="101.94" lengthAdjust="spacingAndGlyphs">26 – &lt; 42</text>
<text x="227.84" y="456.0" font-size="24.6" fill="#444" textLength="101.2" lengthAdjust="spacingAndGlyphs">18 – &lt; 26</text>
<text x="227.84" y="483.6" font-size="24.6" fill="#444" textLength="101.2" lengthAdjust="spacingAndGlyphs">16 – &lt; 18</text>
<text x="227.71" y="511.2" font-size="24.6" fill="#444" textLength="48.25" lengthAdjust="spacingAndGlyphs">&lt; 16</text>
<text x="220.62" y="547.0" font-size="24.3" fill="#444" textLength="192.29" lengthAdjust="spacingAndGlyphs">Data not available</text>
<text x="550.21" y="241.6" font-size="49" fill="#666" textLength="66.15" lengthAdjust="spacingAndGlyphs">EU</text>
<text x="522.15" y="285.7" font-size="50.5" fill="#666" textLength="120.42" lengthAdjust="spacingAndGlyphs">€33.5</text>
<text x="170.73" y="1238.7" font-size="30.5" font-weight="bold" fill="#73777f" textLength="140.47" lengthAdjust="spacingAndGlyphs">eurostat</text>
<text x="172.3" y="1263.3" font-size="17.6" fill="#444" textLength="612.32" lengthAdjust="spacingAndGlyphs">*Excluding agriculture, forestry and fishing, public administration, defence</text>
<text x="170.82" y="1287.2" font-size="17.6" fill="#444" textLength="621.99" lengthAdjust="spacingAndGlyphs">and compulsory social security, activities of households as employers, and</text>
<text x="170.83" y="1311.3" font-size="17.6" fill="#444" textLength="597.87" lengthAdjust="spacingAndGlyphs">activities of extraterritorial organisations and bodies. Spain, Finland and</text>
<text x="170.55" y="1335.3" font-size="17.6" fill="#444" textLength="615.72" lengthAdjust="spacingAndGlyphs">Iceland: data are taken from national sources. Malta: LCS2016 estimates.</text>
<text x="171.23" y="1359.4" font-size="17.6" fill="#444" textLength="214.13" lengthAdjust="spacingAndGlyphs">Source dataset: lc_lci_lev</text>
<text x="862.0" y="1263.5" font-size="17.6" fill="#444" textLength="642.87" lengthAdjust="spacingAndGlyphs">Administrative boundaries: © EuroGeographics © OpenStreetMap © Turkstat</text>
<text x="1159.33" y="1287.4" font-size="17.6" fill="#444" textLength="345.48" lengthAdjust="spacingAndGlyphs">Cartography: Eurostat – IMAGE, 03/2025</text>
</svg>
</body></html>
